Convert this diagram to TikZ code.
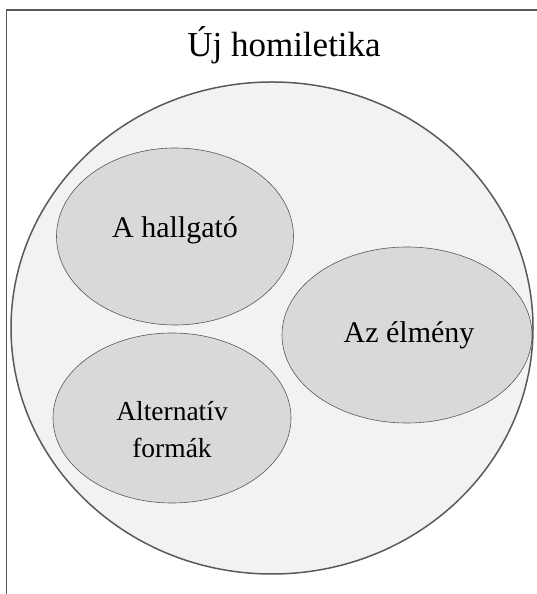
\documentclass[tikz,border=0pt]{standalone}
\usepackage{fontspec}
\setmainfont{Liberation Serif}
\usetikzlibrary{shapes.geometric}

\definecolor{outline}{HTML}{595959}
\definecolor{outerfill}{HTML}{F2F2F2}
\definecolor{innerfill}{HTML}{D9D9D9}

\tikzset{
    outer/.style={ellipse, draw=outline, fill=outerfill, line width=1.5pt, inner sep=0pt},
    bubble/.style={ellipse, draw=outline, fill=innerfill, line width=0.6pt, inner sep=0pt},
    caption/.style={font=\fontsize{30}{36}\selectfont, inner sep=0pt, anchor=base}
}

\begin{document}
\begin{tikzpicture}[x=1pt, y=1pt]

    % Page size of the reference (1pt per pixel)
    \useasboundingbox (0,0) rectangle (536,594);

    % Frame: only its top and left edges are in view
    \draw[outline, line width=1.2pt] (6.5,-2) |- (538,584);

    % The big circle and its title
    \node[outer, minimum width=522, minimum height=492] (ujhom) at (272,266) {};
    \node[caption, font=\fontsize{35}{40}\selectfont] (title) at (284,537) {Új homiletika};

    % The three inner ellipses
    \node[bubble, minimum width=237, minimum height=177] (hallgato) at (175,357.5) {};
    \node[bubble, minimum width=250, minimum height=176] (elmeny) at (407,259) {};
    \node[bubble, minimum width=238, minimum height=170] (formak) at (172,176) {};

    % Their texts
    \node[caption] (hallgatotext) at (175,356) {A hallgató};
    \node[caption] (elmenytext) at (409,251) {Az élmény};
    \node[font=\fontsize{27.5}{37}\selectfont, align=center, inner sep=0pt] (formaktext)
        at (172,164.5) {Alternatív\\formák};

\end{tikzpicture}
\end{document}
